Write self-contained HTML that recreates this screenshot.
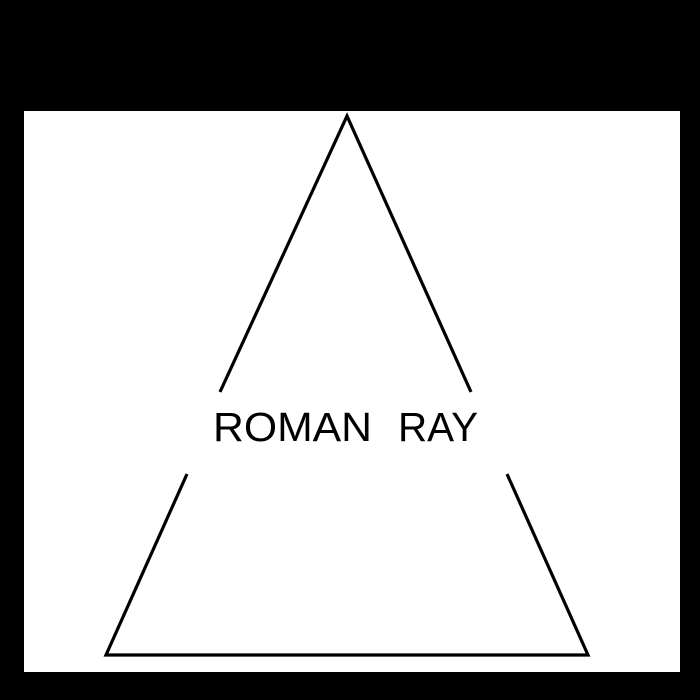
<!DOCTYPE html>
<html><head><style>html,body{margin:0;padding:0;background:#000;}</style></head>
<body>
<svg width="700" height="700" xmlns="http://www.w3.org/2000/svg" style="display:block">
<rect width="700" height="700" fill="#000"/>
<rect x="24" y="111" width="656" height="561" fill="#fff"/>
<g stroke="#000" stroke-width="3.2" fill="none" stroke-linecap="butt">
<polyline points="220,392 347,116 471,392"/>
<polyline points="187,474 106,655 588,655 507,474"/>
</g>
<g font-family="Liberation Sans, sans-serif" font-size="41" fill="#000">
<text x="213" y="441" textLength="159" lengthAdjust="spacingAndGlyphs">ROMAN</text>
<text x="398" y="441" textLength="80" lengthAdjust="spacingAndGlyphs">RAY</text>
</g>
</svg>
</body></html>
